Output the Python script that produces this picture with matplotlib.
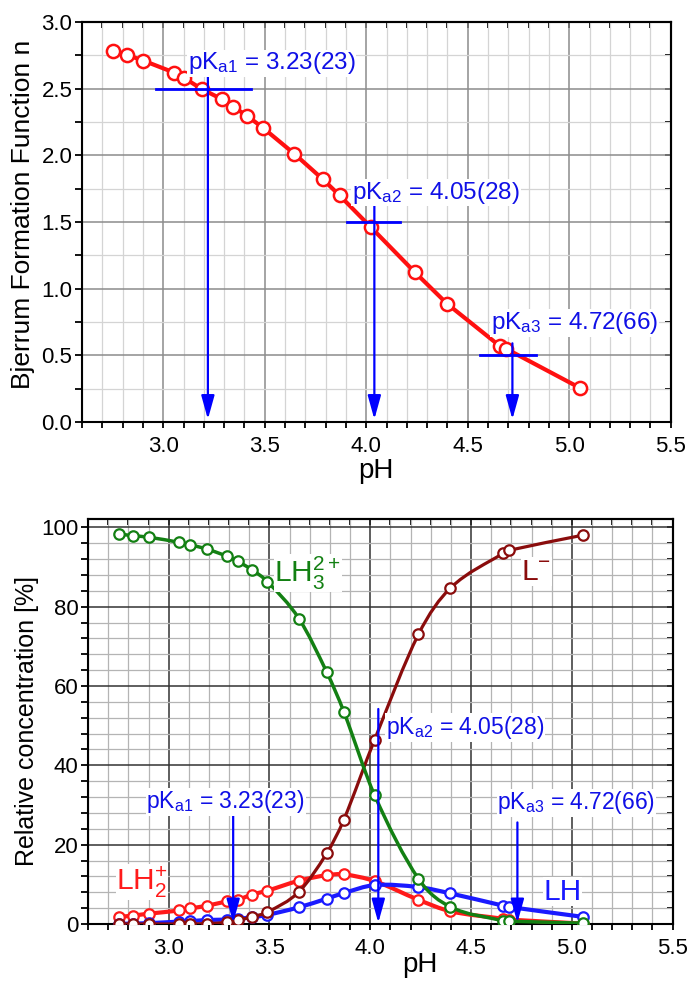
import matplotlib
matplotlib.use('Agg')
import matplotlib.pyplot as plt
import numpy as np
from matplotlib.path import Path
from matplotlib.patches import PathPatch
from matplotlib.ticker import MultipleLocator, FormatStrFormatter
from matplotlib import font_manager

names = {f.name for f in font_manager.fontManager.ttflist}
BASE = 'Liberation Sans' if 'Liberation Sans' in names else 'DejaVu Sans'
NARROW = 'Liberation Sans Narrow' if 'Liberation Sans Narrow' in names else BASE

plt.rcParams['font.family'] = [BASE, 'DejaVu Sans']
plt.rcParams['mathtext.fontset'] = 'custom'
plt.rcParams['mathtext.rm'] = BASE
plt.rcParams['mathtext.it'] = BASE + ':italic'
plt.rcParams['mathtext.bf'] = BASE + ':bold'
plt.rcParams['mathtext.default'] = 'regular'

# ---------------- data ----------------
ph = [2.755, 2.822, 2.901, 3.053, 3.104, 3.191, 3.289, 3.343, 3.413, 3.490,
      3.646, 3.785, 3.869, 4.022, 4.239, 4.398, 4.660, 4.689, 5.053]

n_bjerrum = [2.786, 2.753, 2.711, 2.621, 2.579, 2.496, 2.421, 2.366, 2.296, 2.208,
             2.011, 1.822, 1.699, 1.462, 1.124, 0.887, 0.567, 0.549, 0.255]

conc_LH3 = [98.3, 97.9, 97.5, 96.2, 95.6, 94.5, 92.7, 91.4, 89.3, 86.3,
            77.0, 63.4, 53.5, 32.4, 11.4, 4.3, 0.8, 0.7, 0.2]
conc_LH2 = [1.8, 2.1, 2.6, 3.4, 3.9, 4.6, 5.7, 6.1, 7.4, 8.4,
            10.9, 12.3, 12.5, 10.8, 6.1, 3.2, 1.3, 1.1, 0.1]
conc_LH = [0.0, 0.1, 0.2, 0.6, 0.7, 1.0, 1.1, 1.3, 1.7, 2.3,
           4.2, 6.4, 7.8, 9.8, 9.3, 7.7, 4.6, 4.3, 1.8]
conc_L = [0.0, 0.0, 0.0, 0.0, 0.0, 0.1, 0.4, 0.9, 1.8, 3.0,
          8.1, 17.9, 26.3, 46.5, 73.0, 84.7, 93.5, 94.2, 98.0]

pka_texts = ['pK$_{a1}$ = 3.23(23)', 'pK$_{a2}$ = 4.05(28)', 'pK$_{a3}$ = 4.72(66)']

# top panel annotations
top_arrow_x = [3.22, 4.04, 4.72]
top_arrow_top = [2.60, 1.62, 0.59]
top_cross_y = [2.5, 1.5, 0.5]
top_cross_x0 = [2.965, 3.904, 4.56]
top_cross_x1 = [3.432, 4.167, 4.834]
top_text_x = [3.12, 3.93, 4.614]
top_text_y = [2.69, 1.72, 0.742]

# bottom panel annotations
bot_arrow_x = [3.32, 4.04, 4.73]
bot_arrow_top = [27.5, 54.2, 25.6]
bot_text_x = [2.89, 4.078, 4.63]
bot_text_y = [30.8, 49.5, 30.5]

species_labels = ['LH$_3^{2+}$', 'LH$_2^{+}$', 'LH', 'L$^{-}$']
species_colors = ['#138013', '#ff1a1a', '#1a1aff', '#8a0c0c']
species_lx = [3.525, 2.74, 4.86, 4.75]
species_ly = [86.3, 8.6, 6.1, 86.8]

BLUE_TXT = '#1010e6'
BLUE = '#0000ff'


def smooth_path(x, y):
    x = np.asarray(x, float)
    y = np.asarray(y, float)
    n = len(x)
    m = np.zeros(n)
    for i in range(n):
        i0 = max(i - 1, 0)
        i1 = min(i + 1, n - 1)
        m[i] = (y[i1] - y[i0]) / (x[i1] - x[i0])
    verts = [(x[0], y[0])]
    codes = [Path.MOVETO]
    for i in range(n - 1):
        h = x[i + 1] - x[i]
        verts += [(x[i] + h / 3, y[i] + m[i] * h / 3),
                  (x[i + 1] - h / 3, y[i + 1] - m[i + 1] * h / 3),
                  (x[i + 1], y[i + 1])]
        codes += [Path.CURVE4] * 3
    return Path(verts, codes)


def style_axes(ax, xmaj, xmin, ymaj, ymin, major_c, minor_c):
    ax.xaxis.set_major_locator(MultipleLocator(xmaj))
    ax.xaxis.set_minor_locator(MultipleLocator(xmin))
    ax.yaxis.set_major_locator(MultipleLocator(ymaj))
    ax.yaxis.set_minor_locator(MultipleLocator(ymin))
    ax.grid(which='major', color=major_c, lw=1.1, zorder=0)
    ax.grid(which='minor', color=minor_c, lw=0.9, zorder=0)
    ax.set_axisbelow(True)
    for s in ax.spines.values():
        s.set_linewidth(1.5)
    ax.tick_params(which='both', direction='out', width=1.3, labelsize=16,
                   top=False, right=False)
    ax.tick_params(axis='x', which='both', length=4, pad=6)
    ax.tick_params(axis='y', which='both', length=5, pad=2)
    for lab in ax.get_xticklabels() + ax.get_yticklabels():
        lab.set_family(NARROW)
    secx = ax.secondary_xaxis('top')
    secx.xaxis.set_major_locator(MultipleLocator(xmaj))
    secx.xaxis.set_minor_locator(MultipleLocator(xmin))
    secx.tick_params(which='both', direction='in', length=4, width=1.3,
                     labeltop=False)
    secx.spines['top'].set_linewidth(1.5)
    secy = ax.secondary_yaxis('right')
    secy.yaxis.set_major_locator(MultipleLocator(ymaj))
    secy.yaxis.set_minor_locator(MultipleLocator(ymin))
    secy.tick_params(which='both', direction='in', length=4, width=1.3,
                     labelright=False)
    secy.spines['right'].set_linewidth(1.5)


fig = plt.figure(figsize=(6.91, 9.82), dpi=100)

# ---------------- top panel ----------------
ax1 = fig.add_axes([0.1187, 0.5703, 0.852, 0.4073])
ax1.set_xlim(2.6, 5.5)
ax1.set_ylim(0, 3.0)
style_axes(ax1, 0.5, 0.1, 0.5, 0.25, '#8c8c8c', '#d4d4d4')
ax1.xaxis.set_major_formatter(FormatStrFormatter('%.1f'))
ax1.yaxis.set_major_formatter(FormatStrFormatter('%.1f'))

ax1.plot(ph, n_bjerrum, '-', color='#ff1010', lw=3, zorder=3)
ax1.plot(ph, n_bjerrum, 'o', ls='none', ms=9.5, mfc='white', mec='#ff1010',
         mew=1.8, zorder=4)

for i in range(3):
    ax1.plot([top_cross_x0[i], top_cross_x1[i]], [top_cross_y[i]] * 2,
             color=BLUE, lw=2, zorder=5)
    ax1.annotate('', xy=(top_arrow_x[i], 0.02), xytext=(top_arrow_x[i], top_arrow_top[i]),
                 arrowprops=dict(arrowstyle='-|>,head_length=0.9,head_width=0.25',
                                 color=BLUE, lw=1.6, mutation_scale=16,
                                 shrinkA=0, shrinkB=0), zorder=5)
    ax1.text(top_text_x[i], top_text_y[i], pka_texts[i], color=BLUE_TXT,
             fontsize=17.5, ha='left', va='center', zorder=6,
             bbox=dict(facecolor='white', edgecolor='none', pad=0.5))

ax1.set_xlabel('pH', fontsize=20)
ax1.xaxis.set_label_coords(0.5, -0.09)
ax1.set_ylabel('Bjerrum Formation Function n', fontsize=19)
ax1.yaxis.label.set_va('center')
ax1.yaxis.set_label_coords(-0.1, 0.52)

# ---------------- bottom panel ----------------
ax2 = fig.add_axes([0.1274, 0.0591, 0.846, 0.4124])
ax2.set_xlim(2.6, 5.5)
ax2.set_ylim(0, 102.1)
style_axes(ax2, 0.5, 0.1, 20, 4, '#333333', '#b4b4b4')
ax2.xaxis.set_major_formatter(FormatStrFormatter('%.1f'))

series = [conc_LH2, conc_LH, conc_L, conc_LH3]
cols = ['#ff1a1a', '#1a1aff', '#8a0c0c', '#138013']
lws = [3.0, 3.0, 2.3, 2.5]
for k, (yv, c, lw) in enumerate(zip(series, cols, lws)):
    ax2.add_patch(PathPatch(smooth_path(ph, yv), fill=False, ec=c, lw=lw,
                            zorder=3 + k))
    ax2.plot(ph, yv, 'o', ls='none', ms=7.5, mfc='white', mec=c, mew=1.6,
             zorder=3.5 + k)

for i in range(3):
    ax2.annotate('', xy=(bot_arrow_x[i], 0.3), xytext=(bot_arrow_x[i], bot_arrow_top[i]),
                 arrowprops=dict(arrowstyle='-|>,head_length=0.9,head_width=0.25',
                                 color=BLUE, lw=1.6, mutation_scale=16,
                                 shrinkA=0, shrinkB=0), zorder=10)
    ax2.text(bot_text_x[i], bot_text_y[i], pka_texts[i], color=BLUE_TXT,
             fontsize=16.5, ha='left', va='center', zorder=11,
             bbox=dict(facecolor='white', edgecolor='none', pad=0.5))

for lab, c, x, y in zip(species_labels, species_colors, species_lx, species_ly):
    ax2.text(x, y, lab, color=c, fontsize=21.5, ha='left', va='baseline', zorder=12,
             bbox=dict(facecolor='white', edgecolor='none', pad=0.3))

ax2.set_xlabel('pH', fontsize=20)
ax2.xaxis.set_label_coords(0.567, -0.068)
ax2.set_ylabel('Relative concentration [%]', fontsize=18)
ax2.yaxis.label.set_va('center')
ax2.yaxis.set_label_coords(-0.104, 0.5)

fig.savefig('out.png', dpi=100)
